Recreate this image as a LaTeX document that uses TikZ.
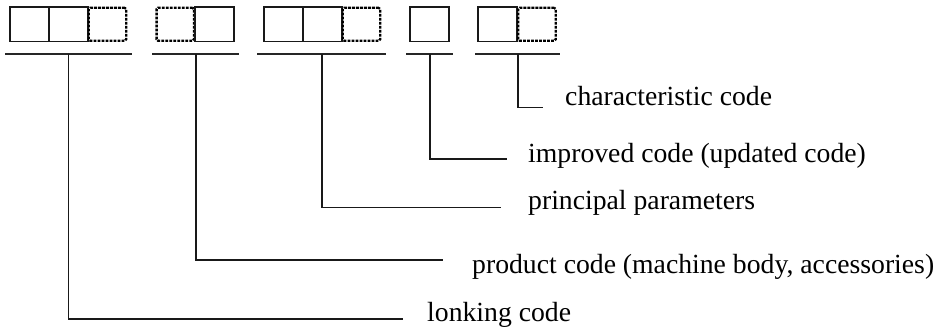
\documentclass[tikz,border=0pt]{standalone}
\usepackage{fontspec}
\setmainfont{Liberation Serif}
\begin{document}
\begin{tikzpicture}[x=1pt,y=-1pt,
  codebox/.style={draw=black!90,line width=1.6pt,minimum width=39pt,minimum height=34.5pt,inner sep=0pt,outer sep=0pt},
  optbox/.style={draw=black,line width=2.4pt,dash pattern=on 2.8pt off 1.2pt,rounded corners=1.5pt,minimum width=37.5pt,minimum height=33pt,inner sep=0pt,outer sep=0pt},
  rule/.style={line width=1.6pt,draw=black!85},
  lead/.style={line width=1.5pt,draw=black!90},
  lbl/.style={anchor=base west,inner sep=0pt,font=\fontsize{27.7}{33}\selectfont}]
\useasboundingbox (0,0) rectangle (943,331);
% group 1
\node[codebox] (a1) at (29.25,24.25) {};
\node[codebox] (a2) at (68.5,24.25) {};
\node[optbox] (a3) at (107.5,24.25) {};
% group 2
\node[optbox] (b1) at (175.3,24.25) {};
\node[codebox] (b2) at (214.2,24.25) {};
% group 3
\node[codebox] (c1) at (283.5,24.25) {};
\node[codebox] (c2) at (322.5,24.25) {};
\node[optbox] (c3) at (361.5,24.25) {};
% group 4
\node[codebox] (d1) at (429.5,24.25) {};
% group 5
\node[codebox] (e1) at (497.5,24.25) {};
\node[optbox] (e2) at (537,24.25) {};
% underlines
\draw[rule] (5,54) -- (132,54);
\draw[rule] (152,54) -- (239,54);
\draw[rule] (257,54) -- (386,54);
\draw[rule] (406,54) -- (453,54);
\draw[rule] (475,54) -- (560,54);
% tick coordinates
\coordinate (ta) at (68.5,54);
\coordinate (tb) at (196,54);
\coordinate (tc) at (322,54);
\coordinate (td) at (430,54);
\coordinate (te) at (518,54);
% line ends
\coordinate (ea) at (403,319);
\coordinate (eb) at (443,260);
\coordinate (ec) at (501,207.7);
\coordinate (ed) at (507,159);
\coordinate (ee) at (543,107.7);
% labels
\node[lbl] (le) at (565,106) {characteristic code};
\node[lbl] (ld) at (528,163) {improved code (updated code)};
\node[lbl] (lc) at (528,210) {principal parameters};
\node[lbl] (lb) at (472,273) {product code (machine body, accessories)};
\node[lbl] (la) at (427,322) {lonking code};
% leaders
\draw[lead] (ta) |- (ea);
\draw[lead] (tb) |- (eb);
\draw[lead] (tc) |- (ec);
\draw[lead] (td) |- (ed);
\draw[lead] (te) |- (ee);
\end{tikzpicture}
\end{document}
